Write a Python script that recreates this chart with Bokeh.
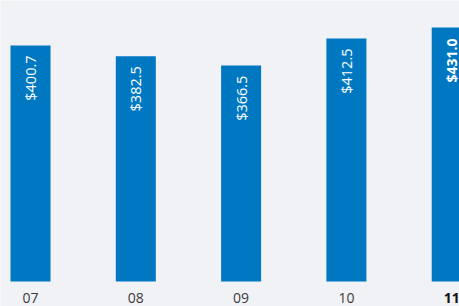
from bokeh.plotting import figure
from bokeh.models import ColumnDataSource
from bokeh.core.properties import value
from bokeh.embed import file_html
from bokeh.resources import INLINE
import math

# Data
years = ["07", "08", "09", "10", "11"]
amounts = [400.7, 382.5, 366.5, 412.5, 431.0]

BG = "#f1f2f6"
BAR = "#0078c1"

xs = list(range(len(years)))
labels = ["$%.1f" % v for v in amounts]

p = figure(width=459, height=306, x_range=(-0.285, 4.074), y_range=(-42.4, 477),
           output_backend="svg", toolbar_location=None, min_border=0)
p.axis.visible = False
p.grid.visible = False
p.outline_line_color = None
p.background_fill_color = BG
p.border_fill_color = BG

p.vbar(x=xs, top=amounts, bottom=0, width=0.38, fill_color=BAR, line_color=None)

n = len(years)
reg = ColumnDataSource(dict(x=xs[:n-1], y=amounts[:n-1], t=labels[:n-1], yr=years[:n-1],
                            ylab=[0]*(n-1)))
last = ColumnDataSource(dict(x=xs[n-1:], y=amounts[n-1:], t=labels[n-1:], yr=years[n-1:],
                             ylab=[0]))

# value labels inside bars (rotated)
p.text(x="x", y="y", text="t", source=reg, angle=math.pi/2, text_align="right",
       text_baseline="middle", y_offset=10, text_color="white",
       text_font=value("Open Sans"), text_font_size="14.5px")
p.text(x="x", y="y", text="t", source=last, angle=math.pi/2, text_align="right",
       text_baseline="middle", y_offset=11, text_color="white",
       text_font=value("Open Sans"), text_font_size="14px", text_font_style="bold")

# category labels
p.text(x="x", y="ylab", text="yr", source=reg, text_align="center",
       text_baseline="middle", y_offset=16, text_color="#3a3a3a",
       text_font=value("Open Sans"), text_font_size="14px")
p.text(x="x", y="ylab", text="yr", source=last, text_align="center",
       text_baseline="middle", y_offset=16, text_color="#111111",
       text_font=value("Open Sans"), text_font_size="14px", text_font_style="bold")

open("out.html", "w").write(file_html(p, INLINE))
